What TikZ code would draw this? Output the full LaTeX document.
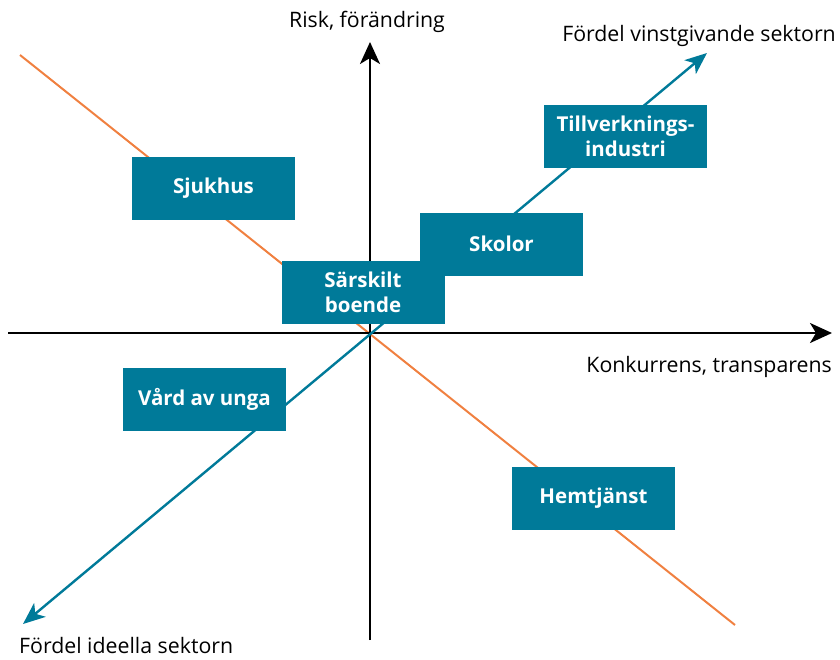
\documentclass[tikz,border=0pt]{standalone}
\usepackage{fontspec}
\setmainfont{Open Sans}
\usetikzlibrary{arrows.meta}
\definecolor{petrol}{RGB}{0,122,153}
\definecolor{apelsin}{RGB}{240,128,64}

\begin{document}
\begin{tikzpicture}[x=1pt,y=-1pt,
    box/.style={fill=petrol, text=white, minimum width=163pt, minimum height=63pt,
      align=center, inner sep=0pt, font=\fontsize{20.5}{24.5}\selectfont\bfseries},
    lbl/.style={font=\fontsize{21.3}{25}\selectfont, inner sep=0pt}]
      \useasboundingbox (0,0) rectangle (840,659);

      % axes and trend lines
      \coordinate (ybot)   at (370,640);
      \coordinate (ytop)   at (370,42);
      \coordinate (xleft)  at (8,333);
      \coordinate (xright) at (832,333);
      \coordinate (otop)   at (20,55);
      \coordinate (obot)   at (735,625);
      \coordinate (tbot)   at (23,624);
      \coordinate (ttop)   at (707,53);

      \draw[apelsin, line width=2pt] (otop) -- (obot);
      \draw[line width=2.4pt, -{Stealth[length=22pt,width=20pt,inset=6pt]}] (ybot) -- (ytop);
      \draw[line width=2.4pt, -{Stealth[length=22pt,width=20pt,inset=6pt]}] (xleft) -- (xright);
      \draw[petrol, line width=2.4pt, {Stealth[length=22pt,width=18pt,inset=6pt]}-{Stealth[length=22pt,width=18pt,inset=6pt]}] (tbot) -- (ttop);

      \node[box] (sjukhus)      at (213.5,188)   {Sjukhus};
      \node[box] (sarskilt)     at (363,292.5)   {Särskilt\\boende};
      \node[box] (skolor)       at (501.5,244)   {Skolor};
      \node[box] (tillverkning) at (625.5,136.5) {Tillverknings-\\industri};
      \node[box] (vard)         at (204.5,399)   {Vård av unga};
      \node[box] (hemtjanst)    at (593.5,498.5) {Hemtjänst};

      \node[lbl, anchor=base]      (risk)   at (367,27)  {Risk, förändring};
      \node[lbl, anchor=base east] (vinst)  at (836,41)  {Fördel vinstgivande sektorn};
      \node[lbl, anchor=base east] (konk)   at (832,372) {Konkurrens, transparens};
      \node[lbl, anchor=base west] (ideell) at (19,653)  {Fördel ideella sektorn};
    \end{tikzpicture}
\end{document}
